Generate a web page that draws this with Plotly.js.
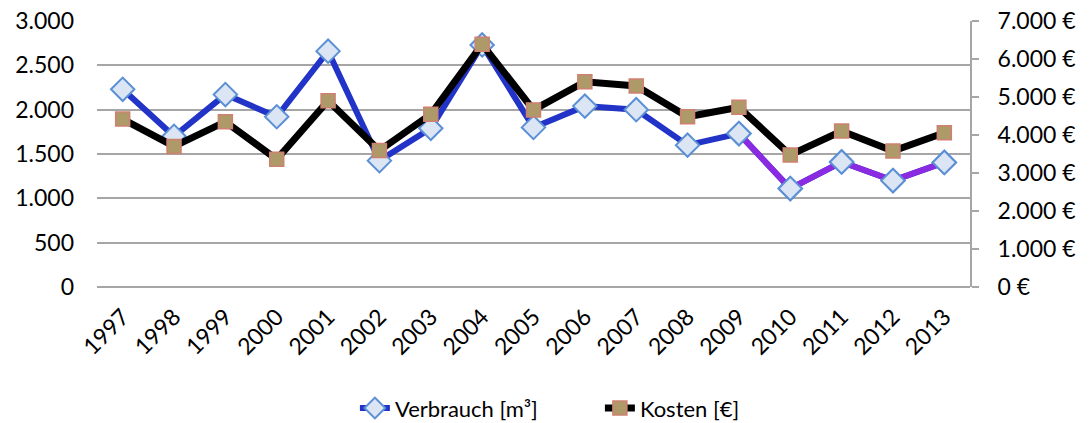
<!DOCTYPE html>
<html><head><meta charset="utf-8">
<script src="https://cdn.plot.ly/plotly-3.0.1.min.js"></script>
<style>html,body{margin:0;padding:0;background:#fff}#chart{width:1092px;height:423px}</style>
</head><body><div id="chart"></div>
<script>
const years = ["1997","1998","1999","2000","2001","2002","2003","2004","2005","2006","2007","2008","2009","2010","2011","2012","2013"];
const verbrauch = [2230,1700,2170,1920,2660,1425,1790,2730,1800,2040,2000,1600,1730,1110,1410,1200,1405];
const kosten = [4420,3700,4350,3360,4900,3590,4545,6390,4660,5400,5290,4480,4730,3475,4105,3580,4060];
const purpleFrom = 12; // index of 2009, where the line turns violet

const fam = "Lato, 'Open Sans', sans-serif";
const diamond = {symbol: "diamond", size: 18, color: "#dbe5f3", line: {color: "#5b8fd6", width: 2}};
const square = {symbol: "square", size: 14, color: "#ad9a68", line: {color: "#d08070", width: 1.5}};

const traces = [
  {x: years, y: verbrauch, name: "Verbrauch [m³]", type: "scatter", mode: "lines+markers",
   line: {color: "#2233c8", width: 6}, marker: diamond, yaxis: "y"},
  {x: years.slice(purpleFrom), y: verbrauch.slice(purpleFrom), name: "Verbrauch [m³]", showlegend: false,
   type: "scatter", mode: "lines+markers", line: {color: "#8a2be2", width: 6}, marker: diamond, yaxis: "y"},
  {x: years, y: kosten, name: "Kosten [€]", type: "scatter", mode: "lines+markers",
   line: {color: "#000000", width: 7}, marker: square, yaxis: "y2"}
];

const layout = {
  width: 1092, height: 423,
  margin: {l: 97, r: 122, t: 21, b: 136},
  paper_bgcolor: "#fff", plot_bgcolor: "#fff",
  separators: ",.",
  font: {family: fam, size: 23, color: "#000"},
  showlegend: true,
  legend: {orientation: "h", x: 0.325, xref: "container", xanchor: "left",
           y: 0.035, yref: "container", yanchor: "middle", entrywidth: 200,
           font: {family: fam, size: 22, color: "#000"}, tracegroupgap: 0},
  xaxis: {type: "category", tickangle: -45, showgrid: false, zeroline: false, showline: false, automargin: false,
          ticks: "", ticklabelstandoff: 11, tickfont: {family: fam, size: 23}, range: [-0.5, 16.5]},
  yaxis: {range: [0, 3000], dtick: 500, tickformat: ",d", showgrid: true, gridcolor: "#a6a6a6", gridwidth: 2,
          zeroline: true, zerolinecolor: "#a6a6a6", zerolinewidth: 2, showline: false, ticks: "", automargin: false,
          ticklabelstandoff: 22, tickfont: {family: fam, size: 23}},
  yaxis2: {range: [0, 7000], dtick: 1000, tickformat: ",d", ticksuffix: " €", overlaying: "y", side: "right",
           showgrid: false, zeroline: false, showline: true, linecolor: "#a6a6a6", linewidth: 2, automargin: false,
           ticks: "outside", ticklen: 7, tickcolor: "#a6a6a6", tickwidth: 2, ticklabelstandoff: 14,
           tickfont: {family: fam, size: 23}}
};

Plotly.newPlot("chart", traces, layout, {displayModeBar: false, staticPlot: true});
</script></body></html>
